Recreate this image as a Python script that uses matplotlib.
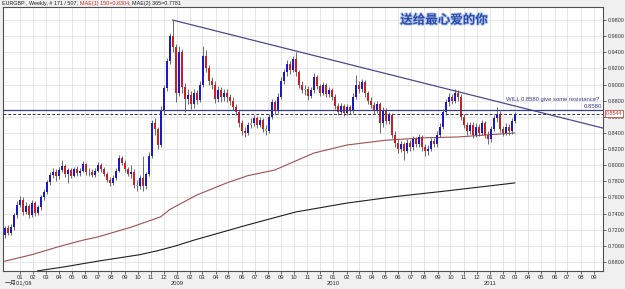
import datetime as dt

import numpy as np
import matplotlib
matplotlib.use("Agg")
import matplotlib.pyplot as plt
import matplotlib.dates as mdates
import matplotlib.patheffects as pe
from matplotlib.transforms import blended_transform_factory


# ============================================================
# 1. DATA
# ============================================================

FIRST_BAR = dt.date(2007, 11, 26)   # weekly bars, one per 7 days
OPEN_FIRST = 0.713

CLOSES = [
    0.722, 0.716, 0.723, 0.738, 0.751, 0.757, 0.742, 0.750, 0.738, 0.753,
    0.741, 0.748, 0.760, 0.767, 0.779, 0.788, 0.791, 0.786, 0.794, 0.799,
    0.789, 0.794, 0.787, 0.795, 0.790, 0.793, 0.801, 0.791, 0.792, 0.788,
    0.793, 0.800, 0.795, 0.789, 0.782, 0.778, 0.784, 0.793, 0.809, 0.803,
    0.795, 0.789, 0.792, 0.776, 0.774, 0.784, 0.774, 0.789, 0.812, 0.852,
    0.845, 0.825, 0.868, 0.896, 0.929, 0.960, 0.946, 0.890, 0.940, 0.897,
    0.882, 0.887, 0.876, 0.889, 0.881, 0.900, 0.935, 0.920, 0.905, 0.900,
    0.882, 0.893, 0.884, 0.890, 0.884, 0.880, 0.872, 0.866, 0.852, 0.843,
    0.840, 0.850, 0.852, 0.858, 0.850, 0.856, 0.845, 0.843, 0.860, 0.878,
    0.868, 0.885, 0.905, 0.915, 0.925, 0.918, 0.932, 0.915, 0.900, 0.893,
    0.895, 0.886, 0.893, 0.910, 0.898, 0.890, 0.899, 0.888, 0.893, 0.885,
    0.874, 0.866, 0.873, 0.865, 0.872, 0.868, 0.885, 0.900, 0.895, 0.903,
    0.889, 0.880, 0.875, 0.868, 0.876, 0.852, 0.868, 0.855, 0.862, 0.838,
    0.828, 0.820, 0.826, 0.818, 0.828, 0.822, 0.832, 0.826, 0.835, 0.822,
    0.817, 0.820, 0.830, 0.826, 0.838, 0.848, 0.866, 0.878, 0.885, 0.880,
    0.890, 0.885, 0.860, 0.850, 0.842, 0.850, 0.838, 0.848, 0.840, 0.852,
    0.838, 0.832, 0.845, 0.858, 0.864, 0.845, 0.840, 0.848, 0.842, 0.855,
    0.864,
]

HIGHS = [
    0.725, 0.726, 0.727, 0.741, 0.755, 0.762, 0.760, 0.754, 0.752, 0.757,
    0.756, 0.751, 0.763, 0.771, 0.782, 0.792, 0.796, 0.795, 0.798, 0.806,
    0.801, 0.797, 0.797, 0.798, 0.799, 0.797, 0.805, 0.803, 0.797, 0.795,
    0.797, 0.804, 0.803, 0.798, 0.792, 0.785, 0.788, 0.797, 0.813, 0.812,
    0.806, 0.798, 0.800, 0.795, 0.782, 0.788, 0.812, 0.792, 0.816, 0.856,
    0.858, 0.848, 0.873, 0.900, 0.933, 0.964, 0.980, 0.950, 0.948, 0.944,
    0.902, 0.895, 0.892, 0.894, 0.893, 0.905, 0.948, 0.943, 0.924, 0.910,
    0.904, 0.898, 0.897, 0.895, 0.894, 0.888, 0.884, 0.876, 0.869, 0.856,
    0.848, 0.854, 0.858, 0.862, 0.861, 0.860, 0.859, 0.850, 0.864, 0.882,
    0.881, 0.889, 0.909, 0.919, 0.930, 0.929, 0.936, 0.941, 0.918, 0.904,
    0.900, 0.898, 0.897, 0.914, 0.912, 0.901, 0.903, 0.902, 0.897, 0.896,
    0.888, 0.877, 0.877, 0.876, 0.876, 0.875, 0.889, 0.912, 0.905, 0.907,
    0.906, 0.892, 0.884, 0.879, 0.880, 0.879, 0.872, 0.871, 0.866, 0.865,
    0.842, 0.832, 0.830, 0.829, 0.832, 0.831, 0.836, 0.835, 0.839, 0.838,
    0.826, 0.825, 0.834, 0.834, 0.842, 0.852, 0.870, 0.882, 0.889, 0.888,
    0.894, 0.893, 0.888, 0.864, 0.854, 0.854, 0.853, 0.852, 0.851, 0.856,
    0.855, 0.842, 0.849, 0.862, 0.872, 0.867, 0.849, 0.852, 0.851, 0.859,
    0.866,
]

LOWS = [
    0.710, 0.713, 0.714, 0.720, 0.735, 0.748, 0.738, 0.739, 0.735, 0.736,
    0.737, 0.738, 0.745, 0.757, 0.764, 0.776, 0.784, 0.781, 0.783, 0.791,
    0.785, 0.778, 0.784, 0.785, 0.787, 0.786, 0.791, 0.788, 0.787, 0.785,
    0.785, 0.791, 0.792, 0.786, 0.779, 0.774, 0.775, 0.782, 0.791, 0.800,
    0.792, 0.786, 0.784, 0.772, 0.768, 0.771, 0.768, 0.771, 0.786, 0.809,
    0.838, 0.820, 0.822, 0.864, 0.892, 0.925, 0.940, 0.878, 0.886, 0.890,
    0.866, 0.876, 0.870, 0.871, 0.876, 0.878, 0.897, 0.915, 0.900, 0.894,
    0.877, 0.878, 0.879, 0.880, 0.879, 0.875, 0.868, 0.862, 0.848, 0.838,
    0.835, 0.837, 0.846, 0.849, 0.846, 0.847, 0.841, 0.838, 0.840, 0.857,
    0.864, 0.865, 0.882, 0.901, 0.911, 0.913, 0.915, 0.911, 0.896, 0.889,
    0.887, 0.881, 0.883, 0.890, 0.894, 0.886, 0.887, 0.884, 0.884, 0.881,
    0.870, 0.862, 0.863, 0.861, 0.862, 0.864, 0.865, 0.882, 0.890, 0.891,
    0.885, 0.876, 0.871, 0.864, 0.865, 0.840, 0.848, 0.851, 0.851, 0.834,
    0.823, 0.815, 0.816, 0.806, 0.815, 0.818, 0.819, 0.822, 0.823, 0.818,
    0.812, 0.813, 0.817, 0.822, 0.823, 0.835, 0.845, 0.862, 0.874, 0.876,
    0.877, 0.880, 0.856, 0.846, 0.838, 0.839, 0.834, 0.835, 0.836, 0.837,
    0.834, 0.826, 0.829, 0.842, 0.854, 0.841, 0.836, 0.837, 0.838, 0.839,
    0.852,
]

# moving averages, sampled at bar indexes
MA150_BARS = [0, 9, 18, 26, 31, 42, 52, 55, 58, 64, 74, 81, 90, 103, 114, 127, 140, 151, 170]
MA150_VALUES = [0.681, 0.689, 0.699, 0.707, 0.711, 0.723, 0.736, 0.745, 0.751, 0.763,
                0.778, 0.787, 0.794, 0.815, 0.825, 0.831, 0.834, 0.835, 0.840]
MA365_BARS = [11, 20, 31, 45, 51, 57, 63, 81, 97, 114, 130, 147, 170]
MA365_VALUES = [0.669, 0.674, 0.681, 0.689, 0.694, 0.700, 0.707, 0.726, 0.742, 0.753,
                0.761, 0.768, 0.778]

# trend line from the Dec 2008 top to the right edge
TREND_START = (dt.date(2008, 12, 22), 0.980)
TREND_END = (dt.date(2011, 9, 22), 0.846)

# horizontal line as drawn in the screenshot and its label
RESIST_LEVEL = 0.868
RESIST_TEXT = "0.8580"
LAST_TEXT = "0.8544"
NOTE_TEXT = "WILL 0.8580 give some resistance?"

TITLE_PARTS = [
    ("EURGBP , Weekly, # 171 / 507, ", "#202020"),
    ("MAE(1) 150=0.8304", "#d03030"),
    (", MAE(2) 365=0.7781", "#202020"),
]
CN_TITLE = "送给最心爱的你"

X_START = dt.date(2007, 11, 22)
X_END = dt.date(2011, 9, 22)
Y_MIN, Y_MAX = 0.6688, 0.9962
Y_TICKS = [0.68 + 0.02 * k for k in range(16)]


# ============================================================
# 2. Plot
# ============================================================

FONT = ["Liberation Sans", "DejaVu Sans"]
plt.rcParams["font.family"] = FONT

UP_COLOR = "#1a1acc"
DOWN_COLOR = "#cc2020"
FLAT_COLOR = "#a8a8a8"


def main():
    fig = plt.figure(figsize=(6.25, 2.89), dpi=100, facecolor="#f0f0f0")
    ax = fig.add_axes([3 / 625, 18 / 289, 600 / 625, 264 / 289])
    ax.set_facecolor("white")

    dates = [FIRST_BAR + dt.timedelta(days=7 * i) for i in range(len(CLOSES))]
    xs = mdates.date2num(dates)
    opens = [OPEN_FIRST] + CLOSES[:-1]

    body_w = 4.6
    for x, o, h, l, c in zip(xs, opens, HIGHS, LOWS, CLOSES):
        if abs(c - o) < 0.003:
            col = FLAT_COLOR
        elif c > o:
            col = UP_COLOR
        else:
            col = DOWN_COLOR
        ax.vlines(x, l, h, color="#555555", linewidth=0.6, zorder=3)
        ax.bar(x, max(abs(c - o), 0.0008), bottom=min(o, c), width=body_w,
               color=col, linewidth=0, zorder=4)

    ax.plot(xs[MA150_BARS], MA150_VALUES, color="#a05050", linewidth=0.8, zorder=2)
    ax.plot(xs[MA365_BARS], MA365_VALUES, color="#202020", linewidth=0.8, zorder=2)

    ax.plot(mdates.date2num([TREND_START[0], TREND_END[0]]),
            [TREND_START[1], TREND_END[1]],
            color="#4a4a8e", linewidth=0.9, zorder=5)

    ax.axhline(RESIST_LEVEL, color="#3c3c8c", linewidth=0.9, zorder=5)
    ax.axhline(CLOSES[-1], color="#303060", linewidth=0.7, linestyle=(0, (3, 2)), zorder=5)

    ax.set_xlim(mdates.date2num(X_START), mdates.date2num(X_END))
    ax.set_ylim(Y_MIN, Y_MAX)

    # grid: every month and every 0.02
    months = []
    d = dt.date(2008, 1, 1)
    while d <= dt.date(2011, 9, 1):
        months.append(d)
        d = dt.date(d.year + (d.month // 12), d.month % 12 + 1, 1)
    mx = mdates.date2num(months)
    ax.set_xticks(mx)
    ax.set_xticklabels([m.strftime("%m") for m in months])
    ax.set_yticks(Y_TICKS)
    ax.set_yticklabels([f"{v:.4f}" for v in Y_TICKS])
    ax.grid(True, color="#e2e2e2", linewidth=0.6, zorder=0)
    ax.set_axisbelow(True)

    ax.yaxis.tick_right()
    ax.tick_params(axis="y", length=2.5, width=0.5, pad=0.6, labelsize=3.9,
                   colors="#303030")
    ax.tick_params(axis="x", length=2, width=0.5, pad=1, labelsize=4.2,
                   colors="#303030")
    for s in ax.spines.values():
        s.set_color("#505050")
        s.set_linewidth(0.8)

    # second row of the time axis
    trans = blended_transform_factory(ax.transData, ax.transAxes)
    ax.text(mdates.date2num(dt.date(2008, 1, 1)) - 4, -0.046, "一月01/08",
            transform=trans, ha="center", va="center", fontsize=4.3,
            color="#303030", family=["Noto Sans CJK SC", "Liberation Sans"])
    for yr in (2009, 2010, 2011):
        ax.text(mdates.date2num(dt.date(yr, 1, 1)), -0.046, str(yr),
                transform=trans, ha="center", va="center", fontsize=4.2,
                color="#303030")

    # annotations
    ax.text(mdates.date2num(X_END) - 2, RESIST_LEVEL + 0.002, RESIST_TEXT,
            ha="right", va="bottom", fontsize=4.3, color="#3c3c8c", zorder=6)
    ax.text(mdates.date2num(dt.date(2011, 5, 28)), 0.8815, NOTE_TEXT,
            ha="center", va="center", fontsize=4.2, color="#3a3a8a", zorder=6)
    ax.annotate(LAST_TEXT, xy=(1.0, CLOSES[-1]), xycoords=("axes fraction", "data"),
                xytext=(2.2, 0), textcoords="offset points", ha="left", va="center",
                fontsize=3.8, color="#c03030", zorder=10, annotation_clip=False,
                bbox=dict(boxstyle="square,pad=0.15", fc="white", ec="#c03030", lw=0.5))

    ax.text(0.735, 0.95, CN_TITLE, transform=ax.transAxes, ha="center", va="center",
            fontsize=9, fontweight="bold", color="#2a4aa8",
            family=["Noto Sans CJK SC", "DejaVu Sans"], zorder=7,
            path_effects=[pe.withStroke(linewidth=1.4, foreground="#b8c8ee")])

    # title strip, pieces placed one after another
    fig.canvas.draw()
    renderer = fig.canvas.get_renderer()
    x_px = 2.0
    for txt, col in TITLE_PARTS:
        t = fig.text(x_px / 625, 1 - 4 / 289, txt, ha="left", va="center",
                     fontsize=3.9, color=col)
        x_px = t.get_window_extent(renderer).x1

    fig.savefig("out.png", dpi=100, facecolor=fig.get_facecolor())
    plt.close(fig)


if __name__ == "__main__":
    main()
